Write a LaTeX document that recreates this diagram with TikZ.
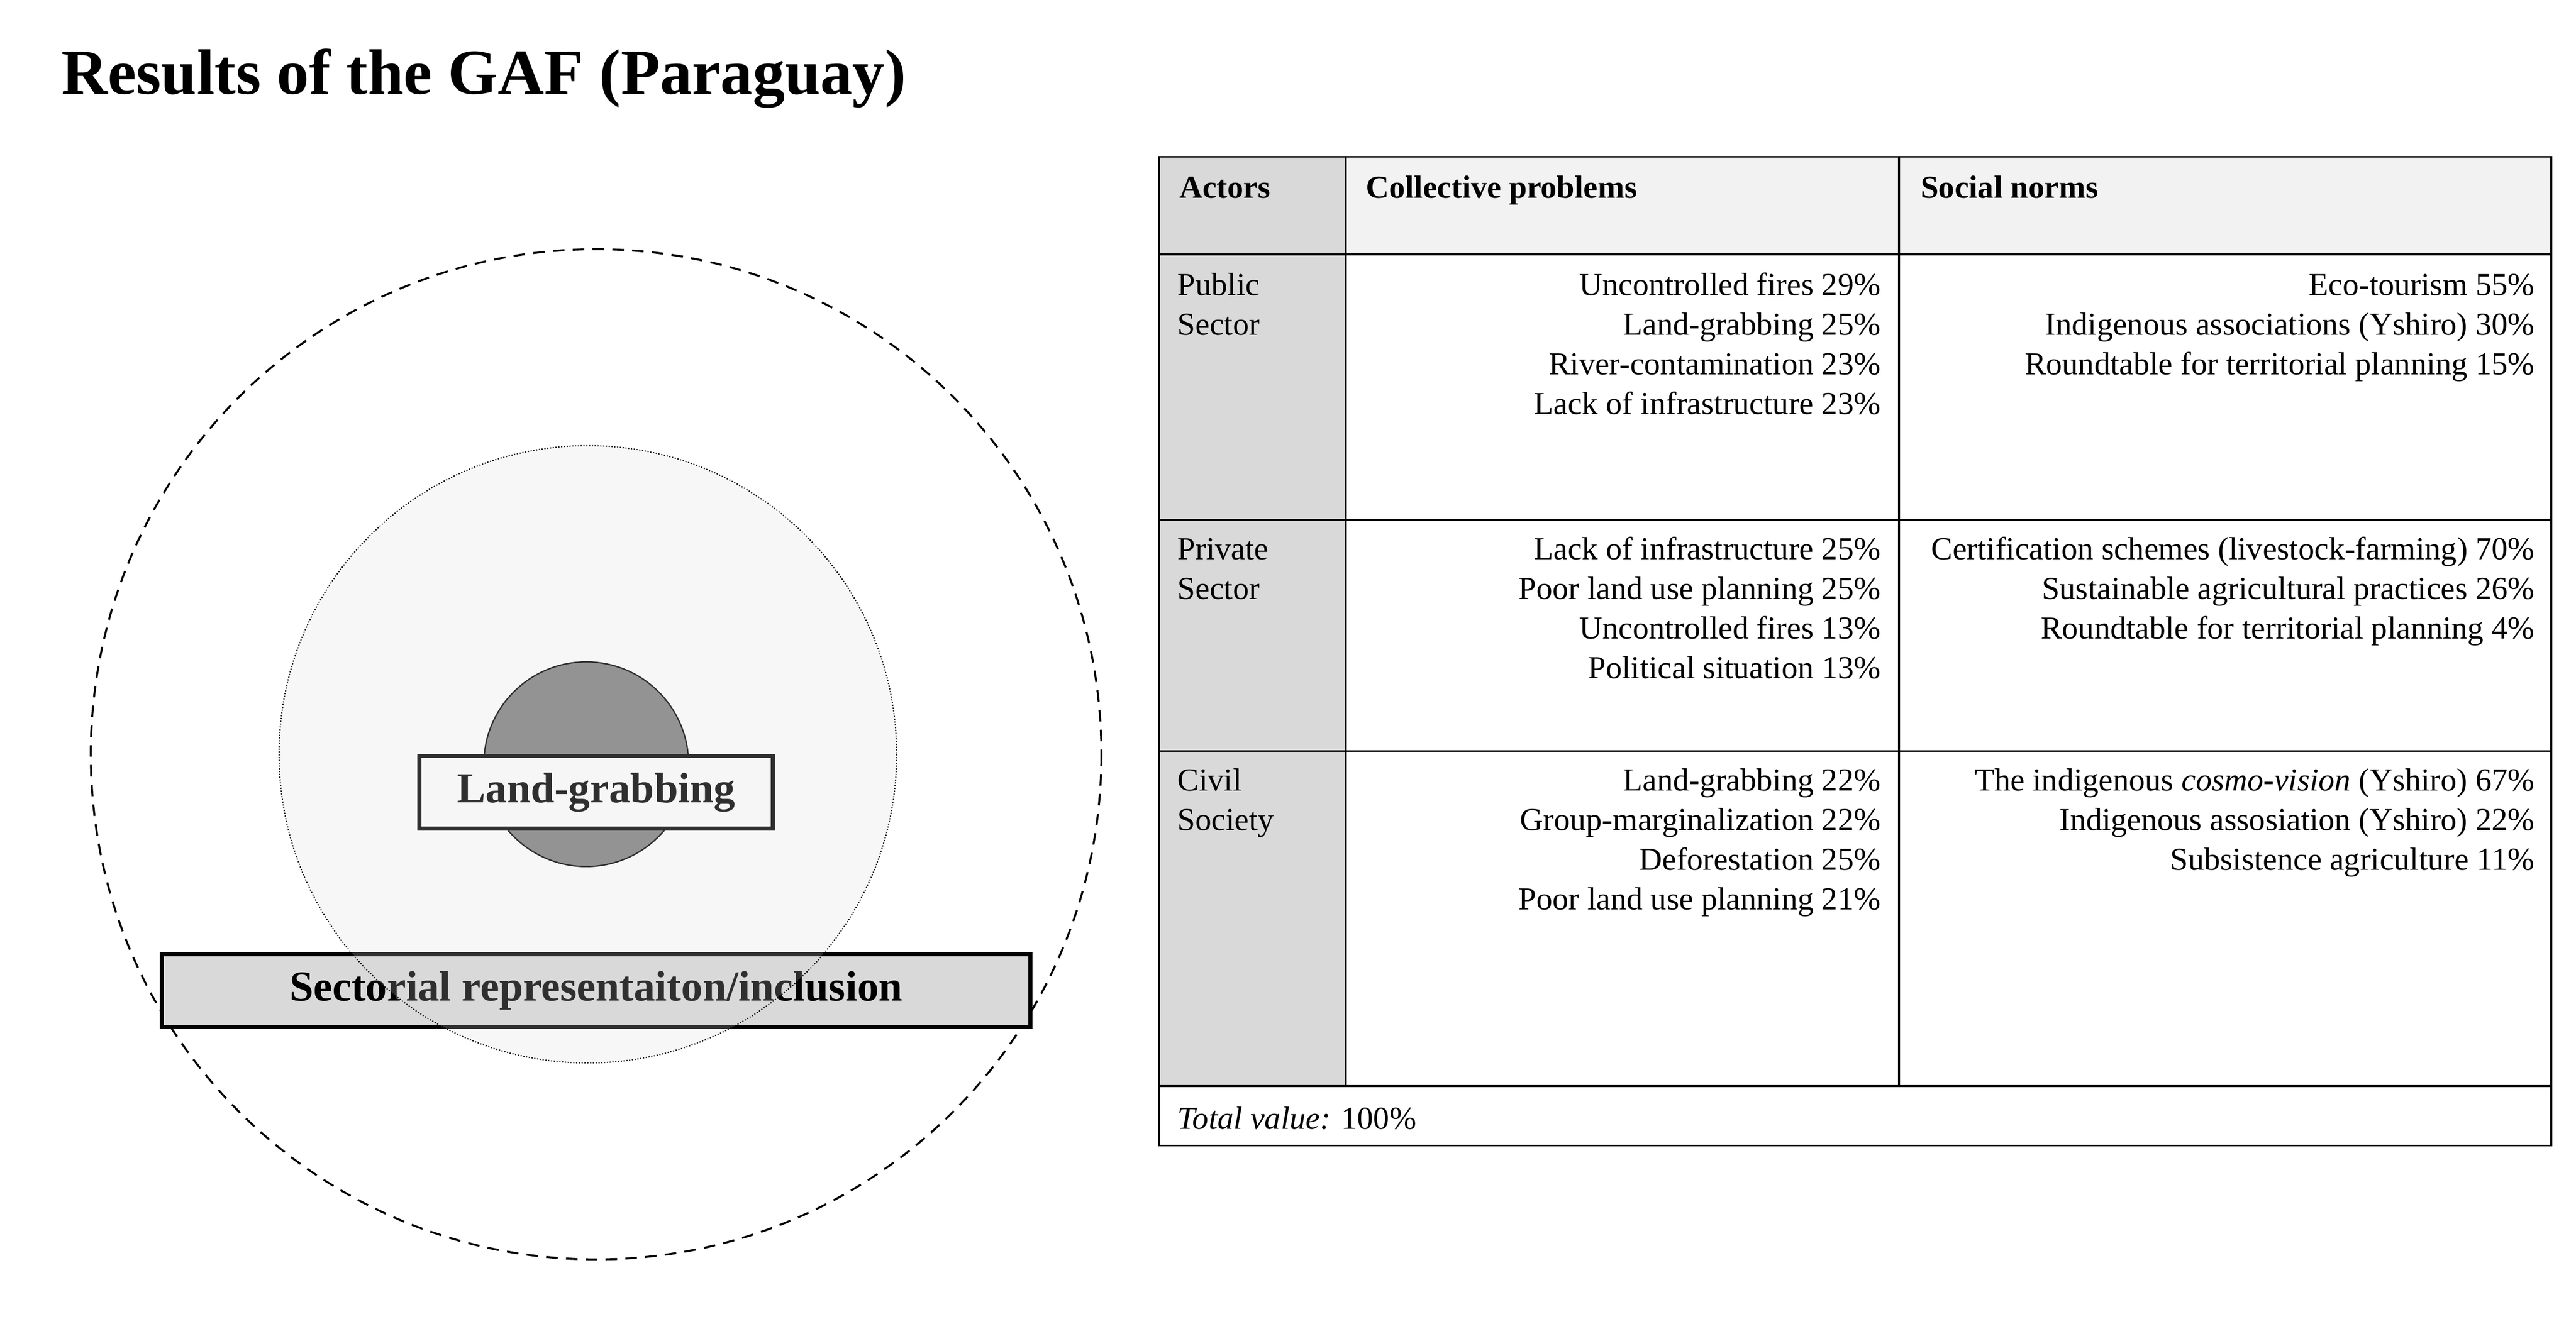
\documentclass[tikz,border=0pt]{standalone}
\usepackage{fontspec}
\setmainfont{Liberation Serif}
\begin{document}
\begin{tikzpicture}[x=1bp,y=-1bp,
  txt/.style={inner sep=0pt,font=\fontsize{19.5}{24}\selectfont},
  rtxt/.style={txt,anchor=base east},
  ltxt/.style={txt,anchor=base west},
  hdr/.style={txt,anchor=base west,font=\fontsize{19.5}{24}\selectfont\bfseries},
  boxlbl/.style={draw,line width=2.5bp,font=\fontsize{26}{30}\selectfont\bfseries,inner sep=0pt}]
\useasboundingbox (0,0) rectangle (1560,802);
\node[anchor=base west,inner sep=0pt,font=\fontsize{39}{44}\selectfont\bfseries] (title) at (37,57) {Results of the GAF (Paraguay)};
% circles
\draw[dashed,line width=1.2bp,dash pattern=on 7bp off 5bp] (361,457) circle (306);
\node[circle,draw,fill=black!50,minimum size=124bp,inner sep=0pt,line width=0.8bp] (core) at (355,463) {};
\node[boxlbl,fill=white,minimum width=214bp,minimum height=44bp] (land) at (361,480) {Land-grabbing};
\node[boxlbl,fill=gray!30,minimum width=526bp,minimum height=44bp] (sect) at (361,600) {Sectorial representaiton/inclusion};
\fill[gray!30,fill opacity=0.22] (356,457) circle (187);
\draw[densely dotted,line width=0.7bp] (356,457) circle (187);
% table
\fill[gray!30] (702,95) rectangle (815,658);
\fill[gray!10] (815,95) rectangle (1545,154);
\draw[line width=1bp] (702,95) rectangle (1545,694);
\draw[line width=1.2bp] (702,154) -- (1545,154);
\draw[line width=1bp] (702,315) -- (1545,315) (702,455) -- (1545,455) (702,658) -- (1545,658);
\draw[line width=1bp] (815,95) -- (815,658) (1150,95) -- (1150,658);
\node[hdr] (h1) at (714,120) {Actors};
\node[hdr] (h2) at (827,120) {Collective problems};
\node[hdr] (h3) at (1163,120) {Social norms};
\node[ltxt] (a1a) at (713,179) {Public};
\node[ltxt] (a1b) at (713,203) {Sector};
\node[ltxt] (a2a) at (713,339) {Private};
\node[ltxt] (a2b) at (713,363) {Sector};
\node[ltxt] (a3a) at (713,479) {Civil};
\node[ltxt] (a3b) at (713,503) {Society};
\node[rtxt] (p11) at (1139,179) {Uncontrolled fires 29\%};
\node[rtxt] (p12) at (1139,203) {Land-grabbing 25\%};
\node[rtxt] (p13) at (1139,227) {River-contamination 23\%};
\node[rtxt] (p14) at (1139,251) {Lack of infrastructure 23\%};
\node[rtxt] (p21) at (1139,339) {Lack of infrastructure 25\%};
\node[rtxt] (p22) at (1139,363) {Poor land use planning 25\%};
\node[rtxt] (p23) at (1139,387) {Uncontrolled fires 13\%};
\node[rtxt] (p24) at (1139,411) {Political situation 13\%};
\node[rtxt] (p31) at (1139,479) {Land-grabbing 22\%};
\node[rtxt] (p32) at (1139,503) {Group-marginalization 22\%};
\node[rtxt] (p33) at (1139,527) {Deforestation 25\%};
\node[rtxt] (p34) at (1139,551) {Poor land use planning 21\%};
\node[rtxt] (s11) at (1535,179) {Eco-tourism 55\%};
\node[rtxt] (s12) at (1535,203) {Indigenous associations (Yshiro) 30\%};
\node[rtxt] (s13) at (1535,227) {Roundtable for territorial planning 15\%};
\node[rtxt] (s21) at (1535,339) {Certification schemes (livestock-farming) 70\%};
\node[rtxt] (s22) at (1535,363) {Sustainable agricultural practices 26\%};
\node[rtxt] (s23) at (1535,387) {Roundtable for territorial planning 4\%};
\node[rtxt] (s31) at (1535,479) {The indigenous \textit{cosmo-vision} (Yshiro) 67\%};
\node[rtxt] (s32) at (1535,503) {Indigenous assosiation (Yshiro) 22\%};
\node[rtxt] (s33) at (1535,527) {Subsistence agriculture 11\%};
\node[ltxt] (tot) at (713,684) {\textit{Total value:} 100\%};
\end{tikzpicture}
\end{document}
